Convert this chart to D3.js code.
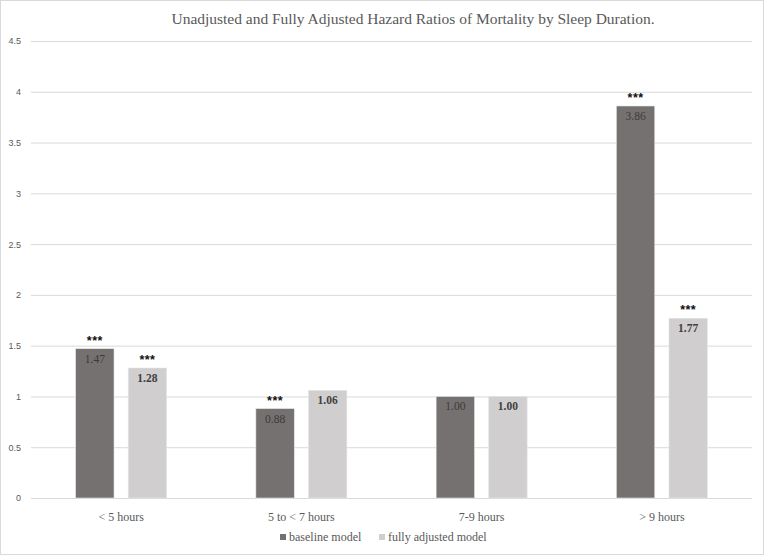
<!DOCTYPE html>
<html>
<head>
<meta charset="utf-8">
<script src="https://cdn.jsdelivr.net/npm/d3@7"></script>
<style>
  body { margin: 0; background: #fff; }
</style>
</head>
<body>
<script>
// data
const categories = ["< 5 hours", "5 to < 7 hours", "7-9 hours", "> 9 hours"];
const seriesNames = ["baseline model", "fully adjusted model"];
const baseline = [1.47, 0.88, 1.00, 3.86];
const adjusted = [1.28, 1.06, 1.00, 1.77];
const baselineStars = ["***", "***", "", "***"];
const adjustedStars = ["***", "", "", "***"];
const yTicks = [0, 0.5, 1, 1.5, 2, 2.5, 3, 3.5, 4, 4.5];

const W = 764, H = 555;
const margin = { top: 41, right: 12, bottom: 57, left: 31 };

const svg = d3.select("body").append("svg")
  .attr("width", W)
  .attr("height", H);

// outer border
svg.append("rect")
  .attr("x", 0.5).attr("y", 0.5)
  .attr("width", W - 1).attr("height", H - 1)
  .attr("fill", "#fff")
  .attr("stroke", "#d9d9d9");

const x = d3.scaleBand()
  .domain(categories)
  .range([margin.left, W - margin.right]);

const x1 = d3.scaleBand()
  .domain(seriesNames)
  .range([0, 91])
  .paddingInner(0.27);

const y = d3.scaleLinear()
  .domain([0, 4.5])
  .range([H - margin.bottom, margin.top]);

const color = d3.scaleOrdinal()
  .domain(seriesNames)
  .range(["#767171", "#d0cece"]);

// gridlines + y labels
const yAxis = d3.axisLeft(y)
  .tickValues(yTicks)
  .tickSize(-(W - margin.left - margin.right))
  .tickPadding(10)
  .tickFormat(d3.format("~g"));

const gy = svg.append("g")
  .attr("transform", `translate(${margin.left},0)`)
  .call(yAxis);
gy.select(".domain").remove();
gy.selectAll(".tick line").attr("stroke", "#d9d9d9").attr("stroke-width", 1);
gy.selectAll(".tick text")
  .attr("fill", "#595959")
  .style("font-family", "Liberation Sans, Arial, sans-serif")
  .style("font-size", "9px");

// title
svg.append("text")
  .attr("x", 413).attr("y", 24)
  .attr("text-anchor", "middle")
  .attr("fill", "#595959")
  .attr("textLength", 483)
  .attr("lengthAdjust", "spacing")
  .style("font-family", "Liberation Serif, Times New Roman, serif")
  .style("font-size", "15.5px")
  .text("Unadjusted and Fully Adjusted Hazard Ratios of Mortality by Sleep Duration.");

const rows = categories.map((c, i) => ({
  cat: c,
  vals: [
    { s: seriesNames[0], v: baseline[i], star: baselineStars[i] },
    { s: seriesNames[1], v: adjusted[i], star: adjustedStars[i] }
  ]
}));

const groupOffset = (x.bandwidth() - 91) / 2;

const g = svg.append("g").selectAll("g")
  .data(rows)
  .join("g")
  .attr("transform", d => `translate(${x(d.cat) + groupOffset},0)`);

g.selectAll("rect")
  .data(d => d.vals)
  .join("rect")
  .attr("x", d => x1(d.s))
  .attr("y", d => y(d.v))
  .attr("width", x1.bandwidth())
  .attr("height", d => y(0) - y(d.v))
  .attr("fill", d => color(d.s))
  .attr("stroke", "#e6e6e6")
  .attr("stroke-width", 0.6);

// value labels
g.selectAll("text.val")
  .data(d => d.vals)
  .join("text")
  .attr("class", "val")
  .attr("x", d => x1(d.s) + x1.bandwidth() / 2)
  .attr("y", d => y(d.v) + 14)
  .attr("text-anchor", "middle")
  .attr("fill", d => d.s === seriesNames[0] ? "#3a3a3a" : "#404040")
  .style("font-weight", d => d.s === seriesNames[0] ? "normal" : "bold")
  .style("font-family", "Liberation Serif, Times New Roman, serif")
  .style("font-size", "11.5px")
  .text(d => d3.format(".2f")(d.v));

// significance stars
g.selectAll("text.star")
  .data(d => d.vals.filter(v => v.star))
  .join("text")
  .attr("class", "star")
  .attr("x", d => x1(d.s) + x1.bandwidth() / 2)
  .attr("y", d => y(d.v) - 4)
  .attr("text-anchor", "middle")
  .attr("fill", "#111")
  .style("font-weight", "bold")
  .style("font-family", "Liberation Sans, Arial, sans-serif")
  .style("font-size", "12.5px")
  .style("letter-spacing", "0.5px")
  .text(d => d.star);

// category labels
svg.append("g").selectAll("text")
  .data(categories)
  .join("text")
  .attr("x", d => x(d) + x.bandwidth() / 2)
  .attr("y", H - margin.bottom + 23)
  .attr("text-anchor", "middle")
  .attr("fill", "#595959")
  .style("font-family", "Liberation Serif, Times New Roman, serif")
  .style("font-size", "12px")
  .text(d => d);

// legend
const legendX = [280, 379];
const leg = svg.append("g").selectAll("g")
  .data(seriesNames)
  .join("g")
  .attr("transform", (d, i) => `translate(${legendX[i]},${H - 14})`);
leg.append("rect")
  .attr("x", 0).attr("y", -7)
  .attr("width", 6).attr("height", 6)
  .attr("fill", d => color(d));
leg.append("text")
  .attr("x", 9).attr("y", 0)
  .attr("fill", "#595959")
  .style("font-family", "Liberation Serif, Times New Roman, serif")
  .style("font-size", "12px")
  .text(d => d);
</script>
</body>
</html>
